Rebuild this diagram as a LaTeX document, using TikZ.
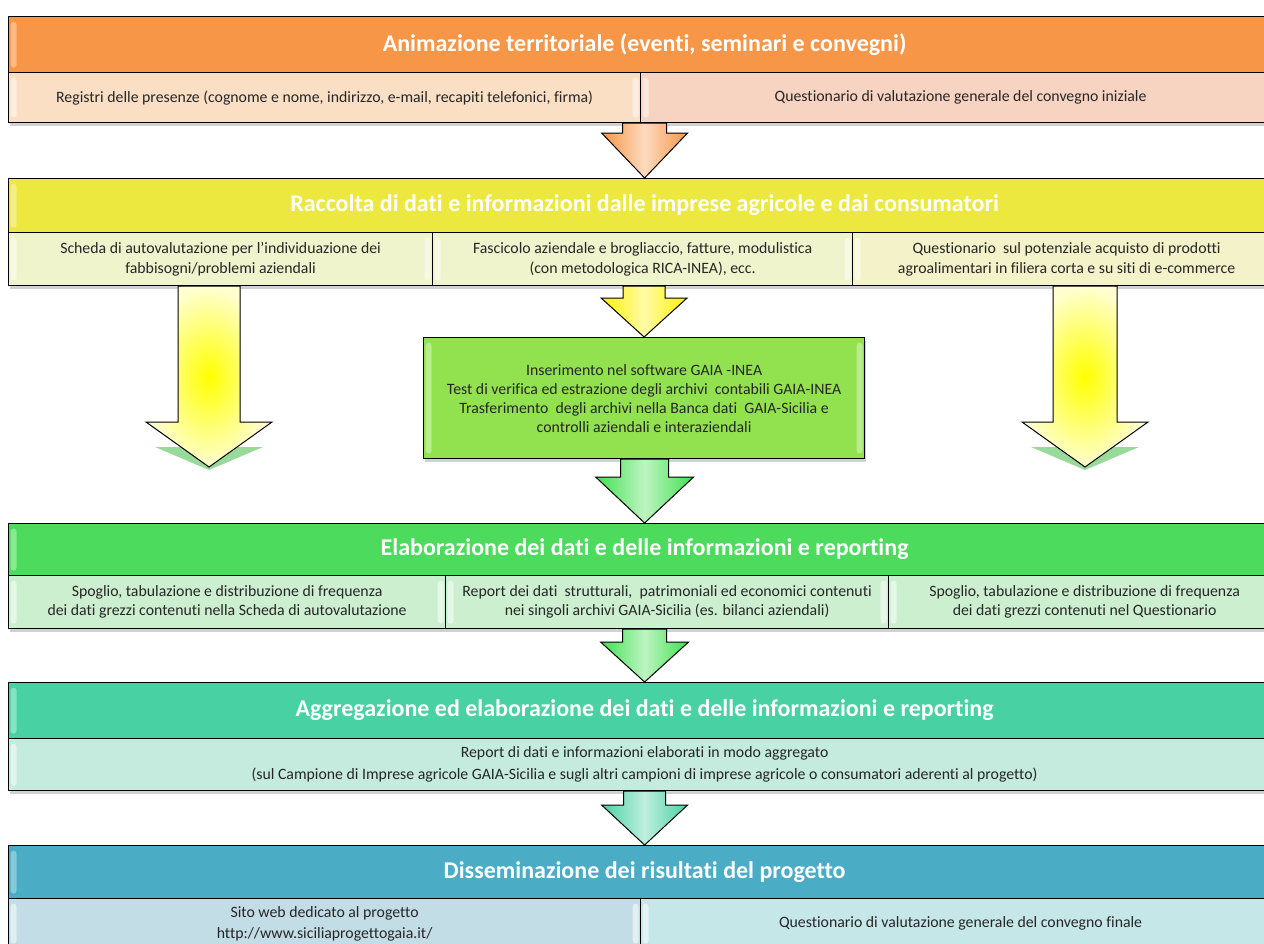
\documentclass[tikz,border=0pt]{standalone}
\usepackage{fontspec}
\setmainfont{Carlito}[Ligatures=NoCommon]
\usetikzlibrary{calc,shadows}
\definecolor{orT}{HTML}{F79646}
\definecolor{orL}{HTML}{FADFC5}
\definecolor{orR}{HTML}{F7D4C1}
\definecolor{yeT}{HTML}{EDE83F}
\definecolor{yeC}{HTML}{EFF4CC}
\definecolor{yeR}{HTML}{F3F2C9}
\definecolor{grM}{HTML}{92E24F}
\definecolor{grT}{HTML}{4CDB5D}
\definecolor{grC}{HTML}{CCEFD0}
\definecolor{tqT}{HTML}{48D1A2}
\definecolor{tqC}{HTML}{C4EBDD}
\definecolor{blT}{HTML}{4BACC6}
\definecolor{blL}{HTML}{C3DDE6}
\definecolor{blR}{HTML}{C6E7E8}
\definecolor{txt}{HTML}{262626}
\newcommand\blockarrow[6]{%
  \path[#6] let \p1=(#1), \p2=(#2) in
  ({\x2-#3pt},{\y1}) -- ({\x2+#3pt},{\y1}) -- ({\x2+#3pt},{\y2+#5pt}) --
  ({\x2+#4pt},{\y2+#5pt}) -- (\x2,\y2) -- ({\x2-#4pt},{\y2+#5pt}) --
  ({\x2-#3pt},{\y2+#5pt}) -- cycle;}
\begin{document}
\begin{tikzpicture}[x=1pt,y=-1pt,
  bevel/.style={path picture={
    \fill[white,opacity=#1,rounded corners=3pt]
      ([xshift=2pt,yshift=-5pt]path picture bounding box.north west) rectangle
      ([xshift=8pt,yshift=5pt]path picture bounding box.south west);
    \fill[white,opacity=#1,rounded corners=3pt]
      ([xshift=-8pt,yshift=-5pt]path picture bounding box.north east) rectangle
      ([xshift=-2pt,yshift=5pt]path picture bounding box.south east);}},
  ttl/.style={draw=black, line width=1.2pt, anchor=north west, inner sep=0pt,
    text=white, font=\fontsize{24}{28}\selectfont\bfseries, fill=#1, bevel=.35},
  cell/.style={draw=black, line width=1.2pt, anchor=north west, inner sep=0pt,
    text=txt, align=center, fill=#1, bevel=.5,
    drop shadow={shadow xshift=1pt, shadow yshift=-3pt, opacity=.3, fill=black!60}},
  fs/.style={font=\fontsize{15.8}{#1}\selectfont},
  arr/.style={draw=black, line width=1pt, left color=#1, right color=#1, middle color=#1!35!white},
  sidearr/.style={draw=black, line width=1pt, shading=radial, inner color=yellow, outer color=yellow!18}
]
\useasboundingbox (0,0) rectangle (1264,943);

% Band 1
\node[ttl=orT, minimum width=1272pt, minimum height=56pt] (t1) at (8,16)
  {Animazione territoriale (eventi, seminari e convegni)};
\node[cell=orL, fs=19, minimum width=632pt, minimum height=50pt] (c11) at (8,72)
  {Registri delle presenze (cognome e nome, indirizzo, e-mail, recapiti telefonici, firma)};
\node[cell=orR, fs=19, minimum width=640pt, minimum height=50pt] (c12) at (640,72)
  {Questionario di valutazione generale del convegno iniziale};

% Band 2
\node[ttl=yeT, minimum width=1272pt, minimum height=54pt] (t2) at (8,178)
  {Raccolta di dati e informazioni dalle imprese agricole e dai consumatori};
\node[cell=yeC, fs=20, minimum width=424pt, minimum height=53pt] (c21) at (8,232)
  {Scheda di autovalutazione per l’individuazione dei\\fabbisogni/problemi aziendali};
\node[cell=yeC, fs=20, minimum width=420pt, minimum height=53pt] (c22) at (432,232)
  {Fascicolo aziendale e brogliaccio, fatture, modulistica\\(con metodologica RICA-INEA), ecc.};
\node[cell=yeR, fs=20, minimum width=428pt, minimum height=53pt] (c23) at (852,232)
  {Questionario\ \ sul potenziale acquisto di prodotti\\agroalimentari in filiera corta e su siti di e-commerce};

% Middle box
\node[draw=black, line width=1.2pt, anchor=north west, inner sep=0pt, fill=grM,
  text=txt, align=center, fs=19, minimum width=441pt, minimum height=121pt,
  bevel=.35, drop shadow={shadow xshift=1pt, shadow yshift=-3pt, opacity=.3, fill=black!60}] (mid) at (423,337)
  {Inserimento nel software GAIA -INEA\\Test di verifica ed estrazione degli archivi\ \ contabili GAIA-INEA\\Trasferimento\ \ degli archivi nella Banca dati\ \ GAIA-Sicilia e\\controlli aziendali e interaziendali};

% Band 3
\node[ttl=grT, minimum width=1272pt, minimum height=52pt] (t3) at (8,523)
  {Elaborazione dei dati e delle informazioni e reporting};
\node[cell=grC, fs=19, minimum width=437pt, minimum height=53pt] (c31) at (8,575)
  {Spoglio, tabulazione e distribuzione di frequenza\\dei dati grezzi contenuti nella Scheda di autovalutazione};
\node[cell=grC, fs=19, minimum width=443pt, minimum height=53pt] (c32) at (445,575)
  {Report dei dati\ \ strutturali,\ \ patrimoniali ed economici contenuti\\nei singoli archivi GAIA-Sicilia (es. bilanci aziendali)};
\node[cell=grC, fs=19, minimum width=392pt, minimum height=53pt] (c33) at (888,575)
  {Spoglio, tabulazione e distribuzione di frequenza\\dei dati grezzi contenuti nel Questionario};

% Band 4
\node[ttl=tqT, minimum width=1272pt, minimum height=56pt] (t4) at (8,682)
  {Aggregazione ed elaborazione dei dati e delle informazioni e reporting};
\node[cell=tqC, fs=22, minimum width=1272pt, minimum height=52pt] (c4) at (8,738)
  {Report di dati e informazioni elaborati in modo aggregato\\(sul Campione di Imprese agricole GAIA-Sicilia e sugli altri campioni di imprese agricole o consumatori aderenti al progetto)};

% Band 5
\node[ttl=blT, minimum width=1272pt, minimum height=53pt] (t5) at (8,845)
  {Disseminazione dei risultati del progetto};
\node[cell=blL, fs=21, minimum width=632pt, minimum height=50pt] (c51) at (8,898)
  {Sito web dedicato al progetto\\http://www.siciliaprogettogaia.it/};
\node[cell=blR, fs=21, minimum width=640pt, minimum height=50pt] (c52) at (640,898)
  {Questionario di valutazione generale del convegno finale};

% side arrow tips
\coordinate (lt) at (209,467);
\coordinate (rt) at (1085,467);
\fill[green!45!gray, opacity=.55] (155,447) -- (263,447) -- (209,470) -- cycle;
\fill[green!45!gray, opacity=.55] (1031,447) -- (1139,447) -- (1085,470) -- cycle;

% arrows
\blockarrow{t1.center |- c11.south}{t2.north}{22}{43}{45}{arr=orT}
\blockarrow{c22.south}{mid.north}{21}{43}{39}{arr=yellow!90!orange}
\blockarrow{c21.south}{lt}{31}{63}{45}{sidearr}
\blockarrow{c23.south}{rt}{32}{63}{45}{sidearr}
\blockarrow{mid.south}{t3.north}{24}{49}{46}{arr=grT!85!green}
\blockarrow{t3.center |- c32.south}{t4.north}{22}{44}{40}{arr=grT!85!green}
\blockarrow{t4.center |- c4.south}{t5.north}{21}{43}{40}{arr=tqT}
\end{tikzpicture}
\end{document}
